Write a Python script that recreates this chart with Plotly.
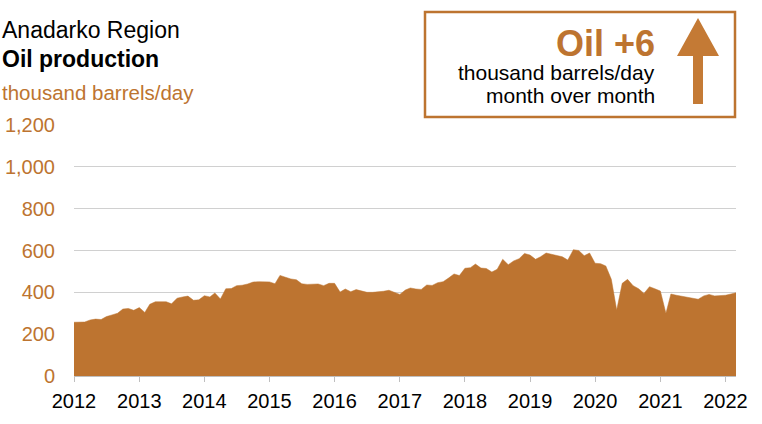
import pandas as pd
import plotly.graph_objects as go

# monthly oil production, Anadarko region, thousand barrels/day
months = pd.date_range("2012-01-01", periods=123, freq="MS")
oil_2012 = [257, 256, 258, 268, 272, 270, 284, 292, 300, 320, 323, 314]
oil_2013 = [327, 304, 343, 355, 356, 355, 345, 372, 378, 382, 362, 364]
oil_2014 = [384, 378, 397, 368, 417, 418, 432, 434, 440, 449, 451, 452]
oil_2015 = [450, 441, 481, 472, 464, 460, 441, 438, 439, 440, 432, 443]
oil_2016 = [443, 401, 416, 403, 413, 406, 400, 400, 401, 405, 410, 402]
oil_2017 = [390, 411, 421, 416, 414, 435, 433, 446, 451, 468, 488, 480]
oil_2018 = [515, 518, 535, 516, 514, 497, 510, 558, 532, 550, 561, 586]
oil_2019 = [578, 558, 570, 588, 582, 575, 570, 554, 604, 600, 575, 588]
oil_2020 = [539, 537, 526, 462, 315, 443, 462, 432, 417, 395, 427, 417]
oil_2021 = [406, 300, 392, 386, 381, 374, 370, 367, 383, 390, 383, 385]
oil_2022 = [386, 392, 398]
oil = (oil_2012 + oil_2013 + oil_2014 + oil_2015 + oil_2016 + oil_2017
       + oil_2018 + oil_2019 + oil_2020 + oil_2021 + oil_2022)

y_ticks = [0, 200, 400, 600, 800, 1000, 1200]
x_ticks = [str(y) for y in range(2012, 2023)]

orange = "#BD7430"
W, H = 762, 424
L, R, T, B = 74, 26, 125, 48
pw, ph = W - L - R, H - T - B


def px(x):
    return (x - L) / pw


def py(y):
    return (H - B - y) / ph


fig = go.Figure()
fig.add_trace(go.Scatter(
    x=months, y=oil, mode="lines", fill="tozeroy",
    line=dict(color=orange, width=0.5), fillcolor=orange,
    hoverinfo="skip", showlegend=False,
))

font = "Arial, Liberation Sans, sans-serif"

fig.update_layout(
    width=W, height=H,
    margin=dict(l=L, r=R, t=T, b=B),
    paper_bgcolor="white", plot_bgcolor="white",
    font=dict(family=font),
    xaxis=dict(
        range=[months[0], months[-1]],
        tickvals=[pd.Timestamp(f"{y}-01-01") for y in x_ticks],
        ticktext=x_ticks,
        showgrid=False, zeroline=False, automargin=False,
        showline=True, linecolor="#bfbfbf", linewidth=1,
        ticks="outside", ticklen=5, tickcolor="#bfbfbf",
        tickfont=dict(size=20, color="black"),
        ticklabelstandoff=2,
    ),
    yaxis=dict(
        range=[0, 1200],
        tickvals=y_ticks,
        ticktext=[f"{v:,}" for v in y_ticks],
        showgrid=True, gridcolor="#d0d0d0", gridwidth=1,
        zeroline=False, showline=False, automargin=False,
        tickfont=dict(size=20, color=orange),
        ticklabelstandoff=18,
    ),
)

# titles, top left
fig.add_annotation(text="Anadarko Region", xref="paper", yref="paper",
                   x=px(0), y=py(45), xanchor="left", yanchor="bottom",
                   showarrow=False, font=dict(size=23, color="black"))
fig.add_annotation(text="<b>Oil production</b>", xref="paper", yref="paper",
                   x=px(0), y=py(74), xanchor="left", yanchor="bottom",
                   showarrow=False, font=dict(size=23, color="black"))
fig.add_annotation(text="thousand barrels/day", xref="paper", yref="paper",
                   x=px(0), y=py(106), xanchor="left", yanchor="bottom",
                   showarrow=False, font=dict(size=20.5, color=orange))

# box with month-over-month change
fig.add_shape(type="rect", xref="paper", yref="paper",
              x0=px(425), x1=px(735), y0=py(117), y1=py(12),
              line=dict(color=orange, width=2.5), fillcolor="white")
fig.add_annotation(text="<b>Oil +6</b>", xref="paper", yref="paper",
                   x=px(657), y=py(66), xanchor="right", yanchor="bottom",
                   showarrow=False, font=dict(size=36, color=orange))
fig.add_annotation(text="thousand barrels/day", xref="paper", yref="paper",
                   x=px(657), y=py(86), xanchor="right", yanchor="bottom",
                   showarrow=False, font=dict(size=21, color="black"))
fig.add_annotation(text="month over month", xref="paper", yref="paper",
                   x=px(657), y=py(109), xanchor="right", yanchor="bottom",
                   showarrow=False, font=dict(size=21, color="black"))

# up arrow
arrow = [(693, 104), (703, 104), (703, 56), (719, 56), (698, 18), (677, 56), (693, 56)]
path = "M " + " L ".join(f"{px(a)},{py(b)}" for a, b in arrow) + " Z"
fig.add_shape(type="path", xref="paper", yref="paper", path=path,
              line=dict(width=0), fillcolor="#C47A35")

fig.write_html("out.html", config={"displayModeBar": False},
               post_script="document.body.style.margin='0';")
